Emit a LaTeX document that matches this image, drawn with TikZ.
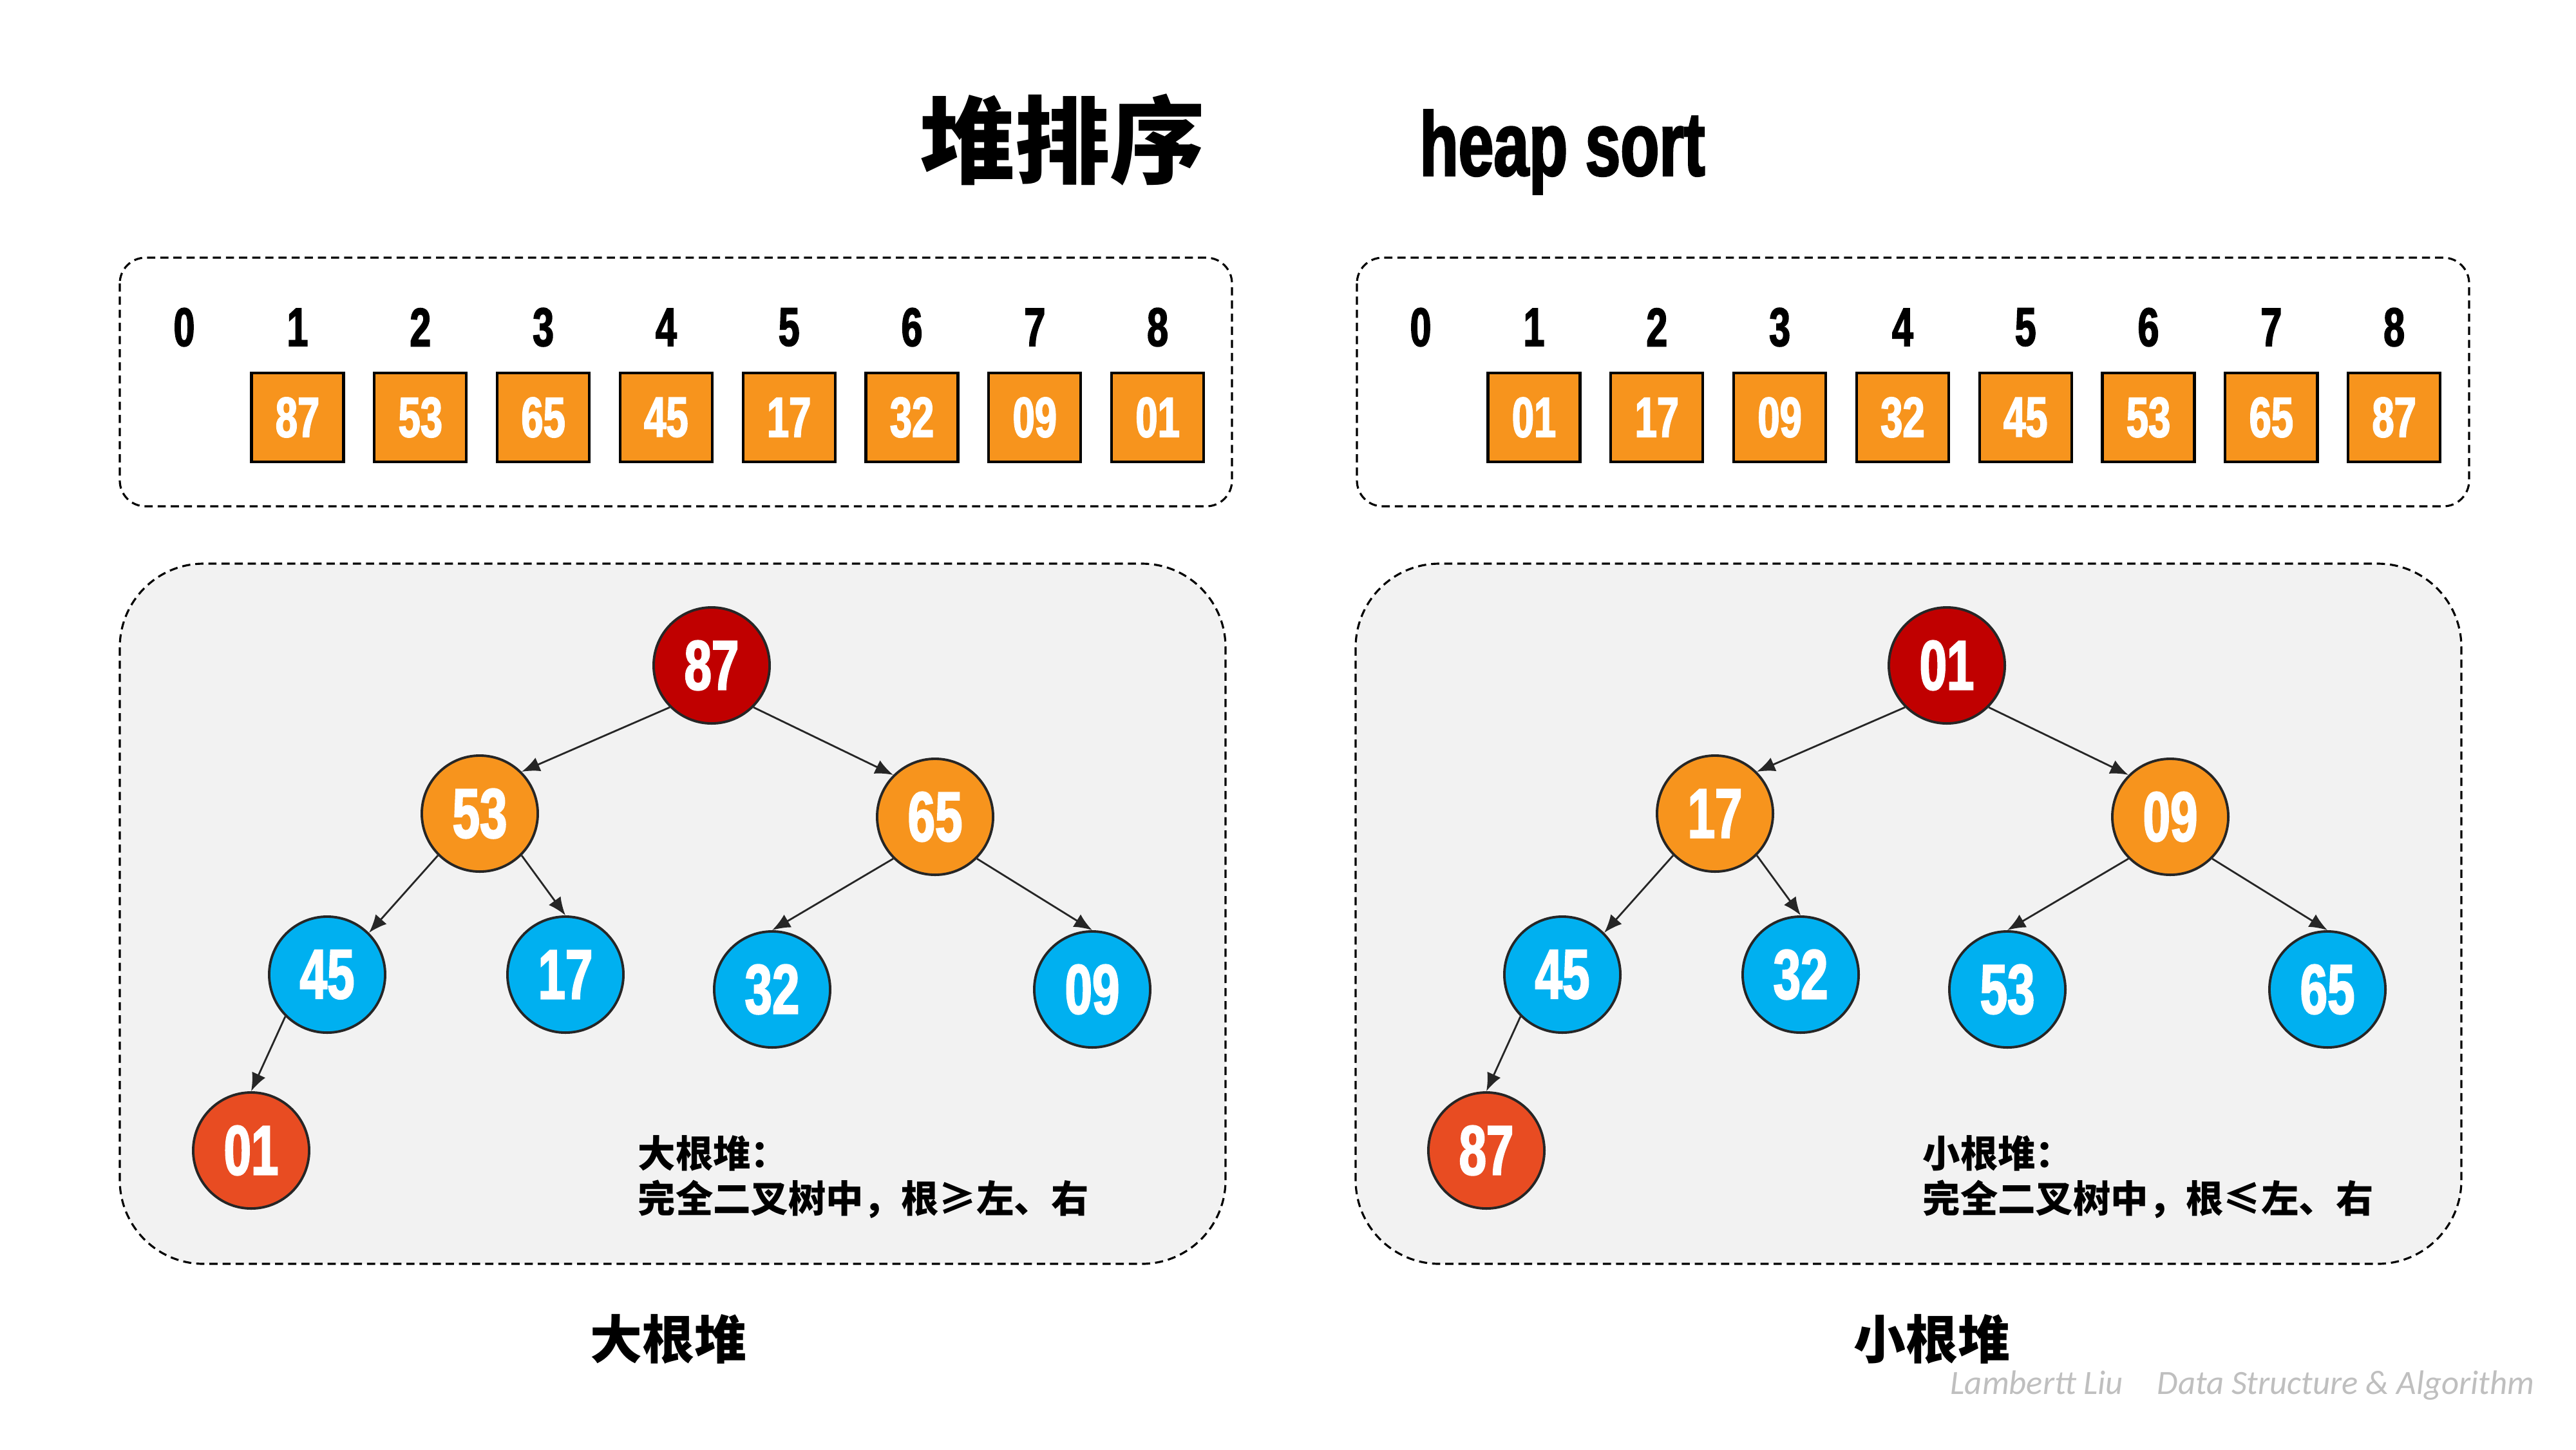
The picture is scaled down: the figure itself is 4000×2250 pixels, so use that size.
\documentclass[tikz,border=0pt]{standalone}
\usepackage{fontspec}
\usetikzlibrary{arrows.meta}
\newfontfamily\cjk{Noto Sans CJK SC}
\newfontfamily\numfont[FakeStretch=0.7,FakeBold=2]{Liberation Sans Bold}
\newfontfamily\wmfont{Carlito}
\definecolor{orangec}{HTML}{F7941D}
\definecolor{bluec}{HTML}{00B0F0}
\definecolor{darkredc}{HTML}{C00000}
\definecolor{redc}{HTML}{E84C22}
\definecolor{panelc}{HTML}{F2F2F2}
\definecolor{edgec}{HTML}{262626}
\definecolor{wmc}{HTML}{BFBFBF}
\begin{document}
\begin{tikzpicture}[x=0.01cm,y=-0.01cm,
  dashbox/.style={draw=black, line width=0.9pt, dash pattern=on 3.6pt off 2.2pt},
  cell/.style={draw=black, line width=1.2pt, fill=orangec, minimum width=1.43cm, minimum height=1.38cm, inner sep=0, text=white, font=\numfont\fontsize{25}{25}\selectfont},
  idx/.style={inner sep=0, font=\numfont\fontsize{24}{24}\selectfont},
  tnode/.style={circle, draw=edgec, line width=1.1pt, minimum size=1.8cm, inner sep=0, text=white, font=\numfont\fontsize{31}{31}\selectfont},
  edge/.style={draw=edgec, line width=0.8pt, -{Latex[length=8pt,width=6.5pt]}},
  captxt/.style={anchor=base west, inner sep=0, font=\cjk\bfseries\fontsize{16.6}{16.6}\selectfont},
  bottomlbl/.style={inner sep=0, font=\cjk\bfseries\fontsize{23}{23}\selectfont}
]
\useasboundingbox[fill=white] (0,0) rectangle (4000,2250);

% titles
\node[inner sep=0, font=\cjk\bfseries\fontsize{42}{42}\selectfont] (title) at (1650,217) {堆排序};
\node[inner sep=0, font=\numfont\fontsize{40}{40}\selectfont] (titleen) at (2426,236) {heap sort};

% array boxes
\draw[dashbox, rounded corners=0.4cm] (186,400) rectangle (1913,786);
\draw[dashbox, rounded corners=0.4cm] (2107,400) rectangle (3834,786);

% left array
\node[idx] (lidx0) at (286,508) {0};
\foreach \v [count=\k] in {87,53,65,45,17,32,09,01} {
  \node[idx] (lidx\k) at ({462+(\k-1)*190.8},508) {\k};
  \node[cell] (lcell\k) at ({462+(\k-1)*190.8},648) {\v};
}
% right array
\node[idx] (ridx0) at (2206,508) {0};
\foreach \v [count=\k] in {01,17,09,32,45,53,65,87} {
  \node[idx] (ridx\k) at ({2382+(\k-1)*190.8},508) {\k};
  \node[cell] (rcell\k) at ({2382+(\k-1)*190.8},648) {\v};
}

% panels
\draw[dashbox, fill=panelc, rounded corners=1.3cm] (186,875) rectangle (1903,1962);
\draw[dashbox, fill=panelc, rounded corners=1.3cm] (2105,875) rectangle (3822,1962);

% left tree (max heap)
\node[tnode, fill=darkredc] (L87) at (1105,1033) {87};
\node[tnode, fill=orangec] (L53) at (745,1263) {53};
\node[tnode, fill=orangec] (L65) at (1452,1268) {65};
\node[tnode, fill=bluec] (L45) at (508,1513) {45};
\node[tnode, fill=bluec] (L17) at (878,1513) {17};
\node[tnode, fill=bluec] (L32) at (1199,1536) {32};
\node[tnode, fill=bluec] (L09) at (1696,1536) {09};
\node[tnode, fill=redc] (L01) at (390,1786) {01};
\draw[edge] (L87.south west) -- (L53.north east);
\draw[edge] (L87.south east) -- (L65.north west);
\draw[edge] (L53.south west) -- (L45.north east);
\draw[edge] (L53.south east) -- (L17.north);
\draw[edge] (L65.south west) -- (L32.north);
\draw[edge] (L65.south east) -- (L09.north);
\draw[edge] (L45.south west) -- (L01.north);

% right tree (min heap)
\node[tnode, fill=darkredc] (R01) at (3023,1033) {01};
\node[tnode, fill=orangec] (R17) at (2663,1263) {17};
\node[tnode, fill=orangec] (R09) at (3370,1268) {09};
\node[tnode, fill=bluec] (R45) at (2426,1513) {45};
\node[tnode, fill=bluec] (R32) at (2796,1513) {32};
\node[tnode, fill=bluec] (R53) at (3117,1536) {53};
\node[tnode, fill=bluec] (R65) at (3614,1536) {65};
\node[tnode, fill=redc] (R87) at (2308,1786) {87};
\draw[edge] (R01.south west) -- (R17.north east);
\draw[edge] (R01.south east) -- (R09.north west);
\draw[edge] (R17.south west) -- (R45.north east);
\draw[edge] (R17.south east) -- (R32.north);
\draw[edge] (R09.south west) -- (R53.north);
\draw[edge] (R09.south east) -- (R65.north);
\draw[edge] (R45.south west) -- (R87.north);

% captions
\node[captxt] (lcap1) at (990,1812) {大根堆：};
\node[captxt] (lcap2) at (990,1882) {完全二叉树中，根≥左、右};
\node[captxt] (rcap1) at (2985,1812) {小根堆：};
\node[captxt] (rcap2) at (2985,1882) {完全二叉树中，根≤左、右};

% bottom labels
\node[bottomlbl] (lbl) at (1038,2079) {大根堆};
\node[bottomlbl] (rbl) at (3000,2079) {小根堆};

% watermark
\node[anchor=west, inner sep=0, text=wmc, font=\wmfont\itshape\fontsize{15}{15}\selectfont] (wm) at (3028,2151) {Lambertt Liu\quad Data Structure \& Algorithm};
\end{tikzpicture}
\end{document}
